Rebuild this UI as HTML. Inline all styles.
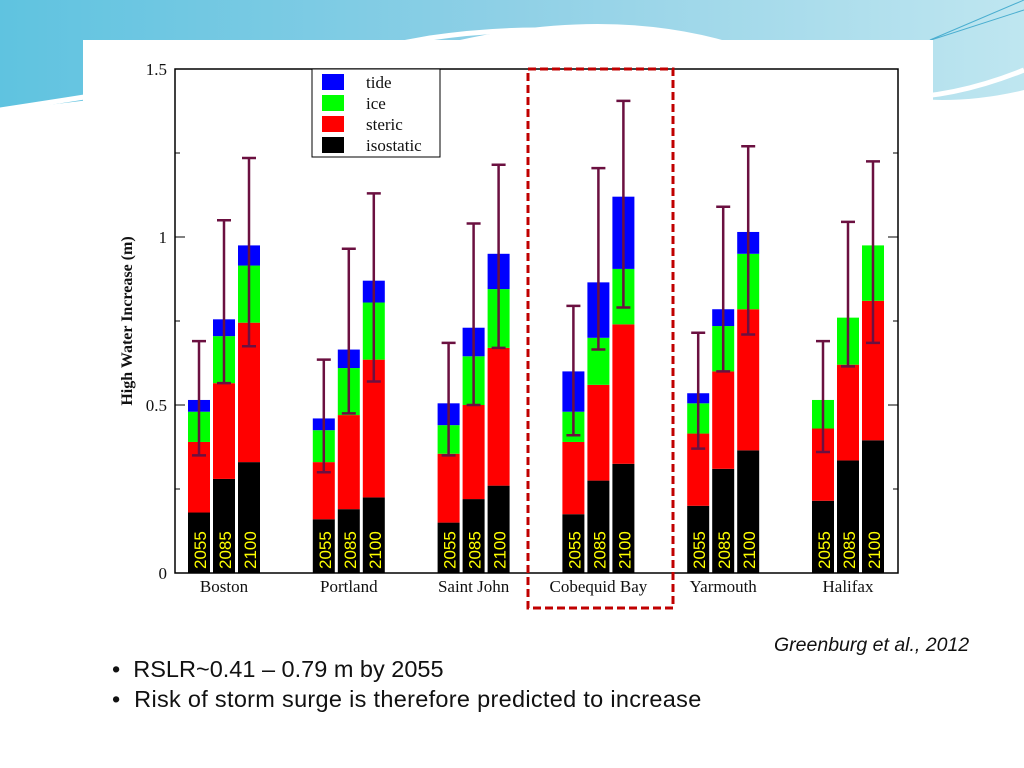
<!DOCTYPE html>
<html><head><meta charset="utf-8"><style>
body{margin:0;width:1024px;height:768px;overflow:hidden;background:#fff;font-family:"Liberation Serif",serif;position:relative}
#bg{position:absolute;left:0;top:0}
#card{position:absolute;left:83px;top:40px;width:850px;height:585px;background:#fff}
.cite{position:absolute;left:774px;top:634px;font-style:italic;font-size:19.5px;color:#111;font-family:"Liberation Sans",sans-serif}
.bul{position:absolute;left:112px;font-size:23.5px;color:#111;font-family:"Liberation Sans",sans-serif}
</style></head><body>
<svg id="bg" width="1024" height="768">
<defs><linearGradient id="g1" x1="0" y1="0" x2="1" y2="0"><stop offset="0" stop-color="#5fc3e0"/><stop offset="0.5" stop-color="#8fd0e6"/><stop offset="1" stop-color="#bfe6f0"/></linearGradient></defs>
<path d="M0 0H1024V90Q900 120 780 60Q640 0 460 40Q200 90 0 110Z" fill="url(#g1)"/>
<path d="M0 110Q200 80 430 38Q620 10 800 80Q900 120 1024 70" fill="none" stroke="#fff" stroke-width="5"/>
<path d="M930 40L1024 0M900 50L1024 10" stroke="#4aaed0" stroke-width="1"/>
</svg>
<div id="card"></div>
<svg id="chart" width="1024" height="768" style="position:absolute;left:0;top:0"></svg>
<div class="cite">Greenburg et al., 2012</div>
<div class="bul" style="top:656px">• &nbsp;RSLR~0.41 – 0.79 m by 2055</div>
<div class="bul" style="top:686px;letter-spacing:0.3px">• &nbsp;Risk of storm surge is therefore predicted to increase</div>
<script>
const cities=["Boston","Portland","Saint John","Cobequid Bay","Yarmouth","Halifax"];
const years=["2055","2085","2100"];
const isoTop=[[0.18,0.28,0.33],[0.16,0.19,0.225],[0.15,0.22,0.26],[0.175,0.275,0.325],[0.2,0.31,0.365],[0.215,0.335,0.395]];
const stericTop=[[0.39,0.565,0.745],[0.33,0.47,0.635],[0.355,0.5,0.67],[0.39,0.56,0.74],[0.415,0.6,0.785],[0.43,0.62,0.81]];
const iceTop=[[0.48,0.705,0.915],[0.425,0.61,0.805],[0.44,0.645,0.845],[0.48,0.7,0.905],[0.505,0.735,0.95],[0.515,0.76,0.975]];
const tideTop=[[0.515,0.755,0.975],[0.46,0.665,0.87],[0.505,0.73,0.95],[0.6,0.865,1.12],[0.535,0.785,1.015],[0.515,0.76,0.975]];
const errLow=[[0.35,0.565,0.675],[0.3,0.475,0.57],[0.35,0.5,0.67],[0.41,0.665,0.79],[0.37,0.6,0.71],[0.36,0.615,0.685]];
const errHigh=[[0.69,1.05,1.235],[0.635,0.965,1.13],[0.685,1.04,1.215],[0.795,1.205,1.405],[0.715,1.09,1.27],[0.69,1.045,1.225]];
const yTicks=[0,0.5,1,1.5];
const yLabels=["0","0.5","1","1.5"];
const svg=document.getElementById('chart');const NS="http://www.w3.org/2000/svg";
const X0=175,X1=898,Y0=573,Y1=69;
const y=v=>Y0-(v/1.5)*(Y0-Y1);
const gx=i=>188+i*124.8, bx=(i,j)=>gx(i)+j*25, BW=22;
function mk(t,a,p){const e=document.createElementNS(NS,t);for(const k in a)e.setAttribute(k,a[k]);(p||svg).appendChild(e);return e;}
const cols=["#000","#f00","#0f0","#00f"];
cities.forEach((c,i)=>{years.forEach((yr,j)=>{
 const tops=[isoTop[i][j],stericTop[i][j],iceTop[i][j],tideTop[i][j]];const names=["isostatic","steric","ice","tide"];
 let prev=0;tops.forEach((t,k)=>{if(t>prev){const r=mk('rect',{x:bx(i,j),y:y(t),width:BW,height:y(prev)-y(t),fill:cols[k]});
 
 }prev=Math.max(prev,t);});
 const cx=bx(i,j)+BW/2;
 const ln=mk('path',{d:`M${cx} ${y(errLow[i][j])}V${y(errHigh[i][j])}M${cx-7} ${y(errLow[i][j])}h14M${cx-7} ${y(errHigh[i][j])}h14`,stroke:"#6b1040","stroke-width":2.5,fill:"none"});
 
 
 const tx=mk('text',{x:cx+7,y:Y0-4,fill:"#ff0",'font-size':17,'font-family':'"Liberation Sans",sans-serif',transform:`rotate(-90 ${cx+7} ${Y0-4})`});
 tx.textContent=yr;
 
 
});
 const lb=mk('text',{x:gx(i)+36,y:592,'text-anchor':'middle','font-size':17,fill:'#111'});lb.textContent=c;
 
 
});
const fr=mk('rect',{x:X0,y:Y1,width:X1-X0,height:Y0-Y1,fill:'none',stroke:'#000','stroke-width':1.5});


yTicks.forEach((t,k)=>{mk('path',{d:`M${X0} ${y(t)}h10M${X1} ${y(t)}h-10`,stroke:'#000'});
 if(k<3)mk('path',{d:`M${X0} ${y(t+0.25)}h5M${X1} ${y(t+0.25)}h-5`,stroke:'#000'});
 const tl=mk('text',{x:X0-8,y:y(t)+6,'text-anchor':'end','font-size':17,fill:'#111'});tl.textContent=yLabels[k];
 
 });
const yt=mk('text',{x:132,y:321,'text-anchor':'middle','font-size':16,'font-weight':'bold',fill:'#111',transform:'rotate(-90 132 321)'});yt.textContent="High Water Increase (m)";


const lg=mk('g',{});


mk('rect',{x:312,y:69,width:128,height:88,fill:'#fff',stroke:'#000'},lg);
["tide","ice","steric","isostatic"].forEach((n,k)=>{mk('rect',{x:322,y:74+k*21,width:22,height:16,fill:cols[3-k]},lg);
 const t=mk('text',{x:366,y:88+k*21,'font-size':17,fill:'#111'},lg);t.textContent=n;});
const hb=mk('rect',{x:528,y:69,width:145,height:539,fill:'none',stroke:'#c00000','stroke-width':3,'stroke-dasharray':'8,4'});


</script>
</body></html>
